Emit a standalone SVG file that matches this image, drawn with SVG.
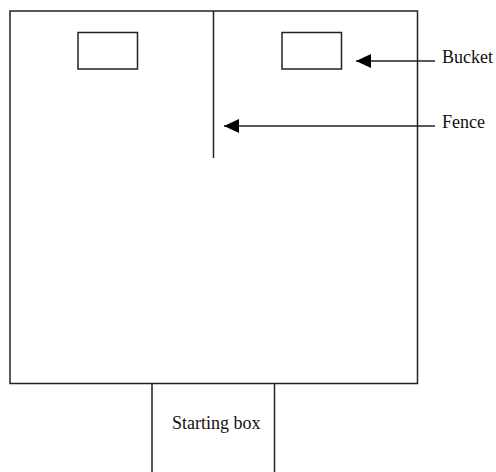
<svg xmlns="http://www.w3.org/2000/svg" width="496" height="472" viewBox="0 0 496 472">
<style>
.ln{fill:none;stroke:#222;stroke-width:1.5}
.tx{font-family:"Liberation Serif","Times New Roman",serif;font-size:18px;fill:#111}
</style>
<defs>
<marker id="ah" markerUnits="userSpaceOnUse" markerWidth="16" markerHeight="14" refX="15" refY="7" orient="auto">
<path d="M0,0 L15,7 L0,14 Z" fill="#000"/>
</marker>
</defs>
<rect width="496" height="472" fill="#fff"/>
<g id="arena">
<rect class="ln" x="10" y="11" width="407.5" height="372.5"/>
</g>
<g id="fence">
<line class="ln" x1="213.5" y1="11" x2="213.5" y2="158"/>
</g>
<g id="bucket-left">
<rect class="ln" x="78" y="32.5" width="59.5" height="36.5"/>
</g>
<g id="bucket-right">
<rect class="ln" x="282" y="32.5" width="59.5" height="36.5"/>
</g>
<g id="starting-box">
<line class="ln" x1="152" y1="383.5" x2="152" y2="472"/>
<line class="ln" x1="274.5" y1="383.5" x2="274.5" y2="472"/>
<text class="tx" x="172" y="429">Starting box</text>
</g>
<g id="label-bucket">
<text class="tx" x="442" y="63">Bucket</text>
</g>
<g id="label-fence">
<text class="tx" x="442" y="128">Fence</text>
</g>
<g id="connectors">
<line class="ln" x1="435" y1="61" x2="356" y2="61" marker-end="url(#ah)"/>
<line class="ln" x1="435" y1="126" x2="224" y2="126" marker-end="url(#ah)"/>
</g>
</svg>
